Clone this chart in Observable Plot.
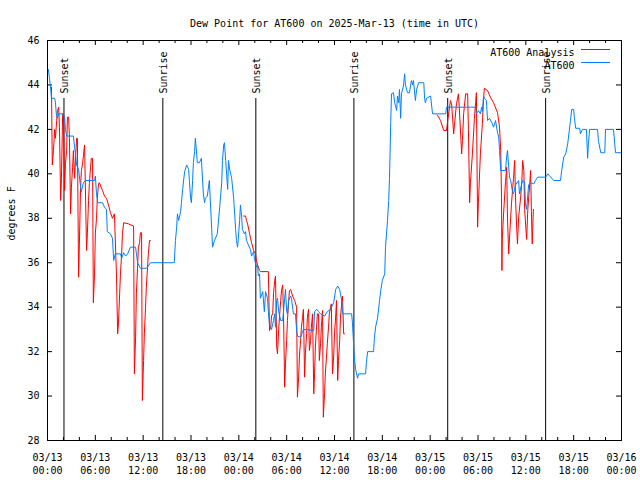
<!DOCTYPE html>
<html>
<head>
<meta charset="utf-8">
<script src="https://cdn.jsdelivr.net/npm/d3@7"></script>
<script src="https://cdn.jsdelivr.net/npm/@observablehq/plot@0.6"></script>
<style>
  html, body { margin: 0; padding: 0; background: #fff; }
  #chart { width: 640px; height: 480px; }
</style>
</head>
<body>
<div id="chart"></div>
<script>
// ---- Data (hours since 2025-03-13 00:00 UTC, dew point in °F) ----
const title = "Dew Point for AT600 on 2025-Mar-13 (time in UTC)";
const yLabel = "degrees F";
const seriesNames = ["AT600 Analysis", "AT600"];
const seriesColors = ["#ff0000", "#0080ff"];

const observed = [
  [0.1,44.7],[0.25,44.3],[0.4,43.8],[0.5,43.4],[0.9,43.4],[1.0,43.2],[1.1,42.7],[1.25,42.5],[1.4,42.7],
  [2.0,42.7],[2.15,42.5],[2.25,42.0],[2.4,41.7],[3.25,41.7],[3.4,41.2],[3.5,40.9],[3.65,40.4],[3.9,40.2],
  [4.15,39.4],[4.25,39.2],[4.5,39.6],[4.75,39.7],[5.9,39.7],[6.0,39.9],[6.15,39.1],[6.3,38.7],[6.9,38.7],
  [7.15,38.5],[7.4,38.4],[7.5,37.4],[7.9,37.3],[8.15,37.1],[8.3,36.1],[8.5,36.4],[9.15,36.4],[9.3,36.2],
  [9.55,36.45],[9.8,36.3],[10.05,36.4],[10.4,36.7],[11.05,36.7],[11.3,36.0],[11.65,35.75],[12.4,35.75],
  [12.65,35.85],[12.9,36.0],[15.9,36.0],[16.05,37.0],[16.2,37.6],[16.3,38.2],[16.45,37.9],[16.7,38.3],
  [16.8,38.7],[16.95,39.3],[17.2,40.1],[17.45,40.4],[17.7,40.2],[17.8,39.7],[17.95,38.9],[18.05,38.7],
  [18.2,39.7],[18.3,40.5],[18.45,41.0],[18.55,41.6],[18.8,40.5],[19.05,40.5],[19.3,40.7],[19.55,39.1],
  [19.7,38.7],[19.8,38.9],[20.05,39.0],[20.3,39.7],[20.6,37.5],[20.7,36.7],[20.95,37.0],[21.3,37.3],
  [21.6,38.5],[21.85,39.6],[21.95,40.6],[22.1,41.3],[22.2,41.4],[22.35,40.6],[22.6,39.3],[22.7,40.6],
  [22.85,40.2],[23.1,39.8],[23.35,38.9],[23.6,37.5],[23.7,37.0],[23.85,36.7],[24.1,37.9],[24.2,38.6],
  [24.35,38.1],[24.45,37.5],[24.7,37.3],[24.85,37.4],[24.95,37.0],[25.2,36.8],[25.45,36.6],[25.6,36.3],
  [25.85,36.5],[25.95,36.2],[26.2,35.8],[26.35,35.9],[26.45,35.4],[26.6,35.5],[26.7,34.4],[27.0,34.7],
  [27.2,33.8],[27.35,34.7],[27.6,34.4],[27.7,33.8],[27.85,33.2],[28.1,33.0],[28.35,33.4],[28.5,33.7],
  [28.6,33.1],[28.75,34.3],[28.85,34.4],[29.0,33.8],[29.25,33.4],[29.5,33.4],[29.75,34.4],[29.85,34.8],
  [30.0,33.8],[30.1,33.7],[30.25,34.3],[30.5,34.5],[30.6,34.4],[30.85,33.7],[31.1,33.7],[31.25,32.95],
  [31.35,32.7],[31.75,32.65],[32.0,32.9],[32.1,33.0],[33.4,32.95],[33.5,33.8],[33.75,33.9],[34.0,33.8],
  [34.25,33.7],[34.75,33.6],[35.1,33.8],[35.5,33.9],[35.9,34.2],[36.15,34.8],[36.4,34.95],[36.65,34.8],
  [36.75,34.6],[36.9,34.3],[37.0,33.7],[38.15,33.7],[38.25,33.3],[38.4,32.3],[38.5,31.7],[38.65,31.2],
  [38.9,30.8],[39.0,31.0],[39.9,31.0],[40.0,31.5],[40.15,32.0],[40.9,32.0],[41.0,32.6],[41.15,33.1],
  [41.4,33.5],[41.65,34.3],[41.8,34.75],[42.0,35.2],[42.3,35.5],[42.4,36.7],[42.65,37.9],[42.8,38.8],
  [42.9,39.8],[43.05,42.3],[43.15,43.6],[43.4,43.65],[43.55,43.2],[43.8,42.85],[43.9,43.5],[44.05,43.2],
  [44.15,43.8],[44.3,42.5],[44.4,43.6],[44.65,43.95],[44.8,44.5],[44.9,44.0],[45.15,43.65],[45.4,43.65],
  [45.65,44.2],[45.8,44.0],[45.9,44.2],[46.15,43.3],[46.3,43.8],[46.55,44.1],[47.2,44.1],[47.3,43.4],
  [47.4,43.2],[47.55,43.4],[48.05,43.5],[48.3,42.7],[48.9,42.7],[49.95,42.7],[50.05,43.0],[51.2,43.0],
  [53.05,43.0],[53.7,43.0],[53.8,42.7],[54.05,42.85],[54.3,42.7],[54.45,43.0],[54.55,42.8],[54.7,43.5],
  [54.8,43.4],[55.05,43.3],[55.2,42.4],[55.45,42.5],[55.8,42.25],[55.95,42.1],[56.2,42.4],[56.45,41.85],
  [56.6,41.65],[56.7,41.05],[56.85,40.15],[57.45,40.15],[57.6,40.8],[57.7,41.05],[57.85,40.3],[57.95,39.85],
  [58.1,39.7],[58.35,39.15],[58.45,39.1],[58.7,39.5],[59.1,39.7],[59.2,39.1],[59.45,39.5],[59.6,39.7],
  [59.85,39.65],[59.95,38.65],[60.1,38.4],[60.35,39.5],[60.6,39.6],[61.0,39.55],[61.2,39.7],[61.5,39.85],
  [62.5,39.85],[62.75,40.0],[63.5,39.7],[64.35,39.7],[64.5,40.15],[64.75,40.75],[65.0,40.9],[65.25,41.35],
  [65.6,42.4],[65.75,42.9],[66.0,42.9],[66.1,42.5],[66.25,42.05],[66.75,42.05],[66.85,41.8],[67.1,42.0],
  [67.6,42.0],[67.75,40.7],[67.85,41.35],[68.0,42.0],[69.0,42.0],[69.1,41.5],[69.4,40.95],[69.9,40.95],
  [70.0,42.0],[71.0,42.0],[71.15,41.35],[71.25,40.95],[71.9,40.95]
];

const analysis = [
  [0.5,43.9],[0.6,40.4],[0.75,41.05],[0.9,42.0],[1.0,41.6],[1.15,42.4],[1.25,42.85],[1.4,43.0],[1.5,42.1],
  [1.65,38.8],[1.75,39.8],[1.9,42.7],[2.0,42.7],[2.15,39.25],[2.25,40.45],[2.4,41.05],[2.5,42.55],[2.65,42.55],
  [2.75,41.6],[2.9,38.2],[3.0,39.4],[3.15,40.3],[3.25,41.05],[3.4,39.8],[3.65,41.6],[3.75,41.6],[3.9,35.35],
  [4.0,36.85],[4.15,39.4],[4.25,40.15],[4.4,40.45],[4.5,40.8],[4.65,41.3],[4.75,39.4],[4.9,36.55],[5.0,37.3],
  [5.15,38.8],[5.25,39.55],[5.4,40.3],[5.5,40.7],[5.65,40.7],[5.75,34.2],[5.9,35.5],[6.0,37.3],[6.15,38.0],
  [6.25,38.9],[6.4,39.55],[6.5,39.6],[6.9,39.25],[7.15,39.0],[7.4,38.9],[7.65,38.6],[7.9,38.25],[8.15,38.0],
  [8.4,38.2],[8.55,36.5],[8.65,35.5],[8.8,32.8],[8.9,33.25],[9.05,34.6],[9.15,35.5],[9.3,36.4],[9.4,37.3],
  [9.55,37.8],[10.15,37.75],[10.8,37.65],[10.9,31.0],[11.05,32.65],[11.15,34.6],[11.3,35.8],[11.4,36.7],
  [11.55,36.9],[11.65,37.35],[11.8,37.35],[11.9,29.8],[12.05,31.6],[12.15,32.8],[12.3,34.0],[12.4,34.9],
  [12.55,35.8],[12.65,36.4],[12.8,37.0],[12.9,37.0],
  [13.0,null],
  [24.6,38.1],[24.85,38.1],[24.95,37.9],[25.1,37.75],[25.35,37.3],[25.6,36.9],[25.85,36.55],[26.1,36.4],
  [26.2,36.1],[26.35,35.9],[26.6,35.65],[26.7,35.6],[27.7,35.6],[27.85,32.95],[28.0,33.1],[28.1,33.6],
  [28.25,33.7],[28.35,34.6],[28.5,35.2],[28.6,35.4],[28.75,32.2],[28.85,31.9],[29.0,33.0],[29.1,33.55],
  [29.25,34.3],[29.35,34.75],[29.5,35.0],[29.6,33.8],[29.75,30.4],[29.85,31.45],[30.0,32.5],[30.1,33.4],
  [30.25,34.3],[30.35,34.75],[30.5,34.8],[30.75,34.5],[31.0,34.3],[31.25,34.0],[31.35,29.95],[31.5,30.85],
  [31.6,31.8],[31.75,32.5],[31.85,33.1],[32.0,33.55],[32.1,33.9],[32.25,30.85],[32.35,31.9],[32.5,32.8],
  [32.6,33.55],[32.75,33.9],[32.85,32.05],[33.0,32.5],[33.1,33.1],[33.25,33.7],[33.4,30.1],[33.5,31.0],
  [33.6,32.2],[33.75,33.1],[33.85,33.7],[34.0,33.7],[34.1,31.6],[34.25,32.35],[34.35,33.1],[34.5,33.85],
  [34.6,29.05],[34.75,30.1],[34.85,31.0],[35.0,31.8],[35.1,32.35],[35.25,33.1],[35.35,33.7],[35.6,34.15],
  [35.75,31.0],[35.9,31.8],[36.0,32.8],[36.15,33.6],[36.25,34.3],[36.4,30.7],[36.5,31.6],[36.65,32.5],
  [36.75,33.55],[36.9,34.15],[37.0,34.5],[37.15,32.8],[37.25,32.8],
  [38.0,null],
  [48.9,42.65],[49.3,42.4],[49.7,41.95],[50.05,41.95],[50.2,42.4],[50.55,43.3],[50.7,43.1],[50.95,41.8],
  [51.05,42.2],[51.3,43.15],[51.55,43.6],[51.65,43.0],[51.95,40.9],[52.05,41.5],[52.2,42.7],[52.45,43.6],
  [52.7,43.6],[52.8,42.0],[52.95,38.7],[53.05,39.6],[53.3,40.9],[53.55,42.5],[53.7,43.2],[53.8,43.65],
  [53.95,37.6],[54.05,38.7],[54.3,40.9],[54.55,42.25],[54.7,43.4],[54.8,43.85],[55.2,43.75],[55.55,43.45],
  [55.95,43.2],[56.45,42.75],[56.7,42.1],[56.85,41.05],[56.95,38.95],[57.0,35.65],[57.05,37.1],[57.2,38.15],
  [57.45,39.65],[57.6,40.3],[57.7,38.0],[57.85,36.4],[57.95,37.1],[58.2,38.65],[58.45,39.8],[58.6,40.6],
  [58.7,38.95],[58.85,37.6],[58.95,36.85],[59.1,38.05],[59.35,38.95],[59.5,39.7],[59.6,40.6],[59.75,40.15],
  [59.85,38.4],[60.1,37.05],[60.25,38.4],[60.5,39.6],[60.6,40.15],[60.7,38.3],[60.8,36.85],[60.95,38.4]
];

const sunTimes = ["2025-03-13T02:04Z","2025-03-13T14:28Z","2025-03-14T02:08Z","2025-03-14T14:26Z","2025-03-15T02:12Z","2025-03-15T14:29Z"];
const sunLabels = ["Sunset","Sunrise","Sunset","Sunrise","Sunset","Sunrise"];

const yTicks = [28,30,32,34,36,38,40,42,44,46];
const startTime = "2025-03-13T00:00Z";
const endTime = "2025-03-16T00:00Z";

// ---- Build ----
const t0 = new Date(startTime).getTime();
const toDate = h => new Date(t0 + h * 3600e3);
const obsData = observed.map(([h, v]) => ({t: toDate(h), v}));
const anaData = analysis.map(([h, v]) => ({t: toDate(h), v}));
const sunData = sunTimes.map((s, i) => ({t: new Date(s), label: sunLabels[i]}));
const x0 = new Date(startTime), x1 = new Date(endTime);
const majorTicks = d3.utcHour.every(6).range(x0, new Date(x1.getTime() + 1));
const minorTicks = d3.utcHour.every(2).range(x0, new Date(x1.getTime() + 1)).filter(d => d.getUTCHours() % 6 !== 0);

const W = 640, H = 480, ML = 47, MR = 19, MT = 40, MB = 40;
const innerW = W - ML - MR, innerH = H - MT - MB;
const font = "'DejaVu Sans Mono', 'Liberation Mono', monospace";

const plot = Plot.plot({
  width: W, height: H,
  marginLeft: ML, marginRight: MR, marginTop: MT, marginBottom: MB,
  style: {fontFamily: font, fontSize: "10px", background: "#fff", color: "#000", overflow: "visible"},
  x: {type: "utc", domain: [x0, x1]},
  y: {domain: [28, 46]},
  marks: [
    // tick marks (inward, all four sides)
    Plot.ruleX(majorTicks, {x: d => d, insetTop: innerH - 5, stroke: "#000"}),
    Plot.ruleX(majorTicks, {x: d => d, insetBottom: innerH - 5, stroke: "#000"}),
    Plot.ruleX(minorTicks, {x: d => d, insetTop: innerH - 3, stroke: "#000"}),
    Plot.ruleX(minorTicks, {x: d => d, insetBottom: innerH - 3, stroke: "#000"}),
    Plot.ruleY(yTicks, {y: d => d, insetRight: innerW - 5, stroke: "#000"}),
    Plot.ruleY(yTicks, {y: d => d, insetLeft: innerW - 5, stroke: "#000"}),
    Plot.axisX({ticks: majorTicks, tickSize: 0, tickPadding: 11, label: null,
      tickFormat: d3.utcFormat("%m/%d\n%H:%M"), lineHeight: 1.3, fontSize: 10, fill: "#000"}),
    Plot.axisY({ticks: yTicks, tickSize: 0, tickPadding: 8, label: null, fontSize: 10, fill: "#000"}),
    // sunrise / sunset
    Plot.ruleX(sunData, {x: "t", insetTop: 58, stroke: "#000", strokeWidth: 1}),
    Plot.text(sunData, {x: "t", text: "label", frameAnchor: "top", rotate: -90, textAnchor: "start",
      lineAnchor: "middle", dy: 53, dx: 1, fontSize: 10, fill: "#000"}),
    // series
    Plot.line(anaData, {x: "t", y: "v", stroke: seriesColors[0], strokeWidth: 1}),
    Plot.line(obsData, {x: "t", y: "v", stroke: seriesColors[1], strokeWidth: 1}),
    // title and y label
    Plot.text([title], {text: d => d, frameAnchor: "top", dy: -21, fontSize: 10, fill: "#000"}),
    Plot.text([yLabel], {text: d => d, frameAnchor: "left", rotate: -90, dx: -36, fontSize: 10, fill: "#000"}),
    // legend text
    Plot.text([seriesNames[0]], {text: d => d, frameAnchor: "top-right", textAnchor: "end", dx: -47, dy: 8.5, fontSize: 10, fill: "#000"}),
    Plot.text([seriesNames[1]], {text: d => d, frameAnchor: "top-right", textAnchor: "end", dx: -47, dy: 21, fontSize: 10, fill: "#000"}),
    Plot.frame({stroke: "#000"})
  ]
});

// legend line samples
const svg = d3.select(plot);
const lg = svg.append("g").attr("stroke-width", 1);
[0, 1].forEach(i => {
  const yy = MT + (i === 0 ? 9.5 : 22.5);
  lg.append("line").attr("x1", 581).attr("x2", 610).attr("y1", yy).attr("y2", yy)
    .attr("stroke", seriesColors[i]);
});

document.getElementById("chart").appendChild(plot);
</script>
</body>
</html>
